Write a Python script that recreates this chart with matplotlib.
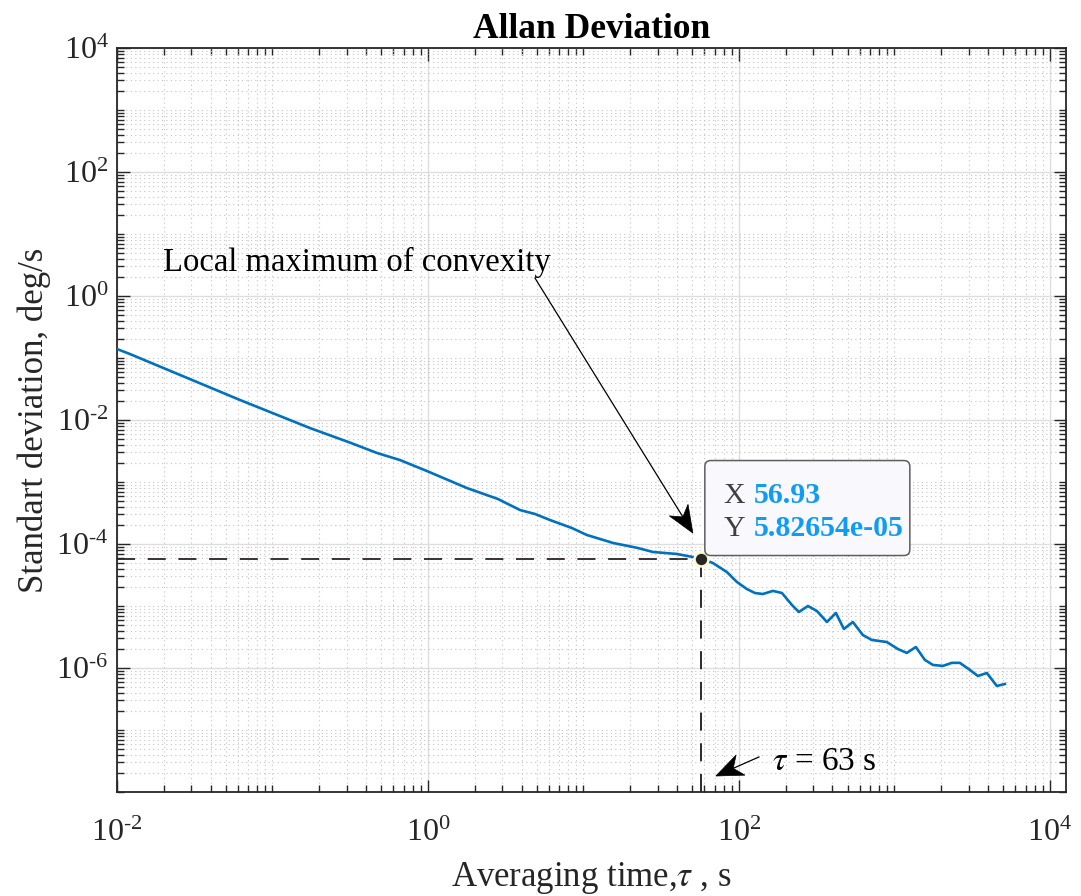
import numpy as np
import matplotlib
matplotlib.use("Agg")
import matplotlib.pyplot as plt
from matplotlib.ticker import LogLocator, NullFormatter, FuncFormatter
from matplotlib.patches import Polygon, FancyBboxPatch
from matplotlib.lines import Line2D
from matplotlib.transforms import IdentityTransform, ScaledTranslation

plt.rcParams["font.family"] = ["Liberation Serif", "DejaVu Serif"]
plt.rcParams["mathtext.fontset"] = "stix"
plt.rcParams["mathtext.default"] = "regular"

# averaging time (s) and Allan deviation (deg/s)
tau = [0.0100, 0.0121, 0.0618, 0.174, 0.320, 0.470, 0.661, 0.987, 1.78, 2.82,
       3.91, 4.88, 6.09, 8.43, 10.5, 15.5, 22.4, 28.0, 39.9, 56.93,
       68.0, 83.7, 97.1, 112.5, 126.8, 142.6, 165.5, 189.2, 219.3, 243.2,
       278.0, 317.6, 368.3, 420.7, 473.6, 540.9, 627.0, 716.6, 895.0, 1054.0,
       1203.0, 1375.0, 1571.0, 1770.0, 2051.0, 2344.0, 2637.0, 3062.0, 3444.0, 3936.0,
       4560.0, 5140.0]
adev = [0.1396, 0.1161, 0.02104, 7.43e-3, 4.26e-3, 2.94e-3, 2.26e-3, 1.50e-3, 8.0e-4, 5.32e-4,
        3.53e-4, 3.05e-4, 2.44e-4, 1.81e-4, 1.40e-4, 1.04e-4, 8.62e-5, 7.43e-5, 6.90e-5, 5.82654e-05,
        4.94e-5, 3.53e-5, 2.44e-5, 1.88e-5, 1.62e-5, 1.56e-5, 1.75e-5, 1.62e-5, 1.04e-5, 8.0e-6,
        1.0e-5, 8.3e-6, 5.52e-6, 7.71e-6, 4.26e-6, 5.52e-6, 3.40e-6, 2.83e-6, 2.62e-6, 2.02e-6,
        1.75e-6, 2.18e-6, 1.35e-6, 1.12e-6, 1.08e-6, 1.21e-6, 1.21e-6, 9.3e-7, 7.43e-7, 8.3e-7,
        5.13e-7, 5.52e-7]

# highlighted point (data tip)
tip_x = 56.93
tip_y = 5.82654e-05

xlims = (1e-2, 1.27e4)
ylims = (1e-8, 1e4)
yticks = [1e-6, 1e-4, 1e-2, 1e0, 1e2, 1e4]
xticks = [1e-2, 1e0, 1e2, 1e4]


def pow_label(v, pos):
    e = int(round(np.log10(v)))
    if e < 0:
        return r"$10^{\text{-}%d}$" % (-e)
    return r"$10^{%d}$" % e


fig = plt.figure(figsize=(10.81, 8.96), dpi=100)
ax = fig.add_axes([0.1082, 0.1161, 0.8779, 0.8303])
ax.set_xscale("log")
ax.set_yscale("log")

ax.plot(tau, adev, color="#0072BD", linewidth=1.9, zorder=3)

# dashed guide lines to the data tip
ax.plot([xlims[0], tip_x], [tip_y, tip_y], linestyle=(0, (10, 7)), color="#2e2222",
        linewidth=1.3, zorder=2)
ax.plot([tip_x, tip_x], [ylims[0], tip_y], linestyle=(0, (10, 7)), color="#1a1a1a",
        linewidth=1.3, zorder=2)
ax.plot([tip_x], [tip_y], marker="o", markersize=10, markerfacecolor="#262626",
        markeredgecolor="#fffbd0", markeredgewidth=1.8, zorder=5)

ax.set_xlim(*xlims)
ax.set_ylim(*ylims)
ax.set_xticks(xticks)
ax.set_yticks(yticks)
ax.xaxis.set_major_formatter(FuncFormatter(pow_label))
ax.yaxis.set_major_formatter(FuncFormatter(pow_label))
ax.xaxis.set_minor_locator(LogLocator(base=10, subs=np.arange(1, 10), numticks=100))
ax.yaxis.set_minor_locator(LogLocator(base=10, subs=np.arange(1, 10), numticks=100))
ax.xaxis.set_minor_formatter(NullFormatter())
ax.yaxis.set_minor_formatter(NullFormatter())

ax.tick_params(which="both", direction="in", top=True, right=True, colors="#262626",
               labelcolor="#262626", width=1.0)
ax.tick_params(which="major", length=9, labelsize=23)
ax.tick_params(axis="x", which="major", pad=19)
ax.tick_params(axis="y", which="major", pad=6)
ax.tick_params(which="minor", length=5)
for sp in ax.spines.values():
    sp.set_linewidth(1.3)
    sp.set_color("#262626")

ax.grid(True, which="major", color="#dedede", linewidth=1.0, linestyle="-")
ax.grid(True, which="minor", color="#c4c4c4", linewidth=0.8, linestyle=(0, (1, 3)))
ax.set_axisbelow(True)

ax.set_title("Allan Deviation", fontsize=25.5, fontweight="bold", pad=7)
ax.set_xlabel(r"Averaging time,$\mathit{\tau}$ , s", fontsize=25, color="#262626", labelpad=9)
ax.set_ylabel("Standart deviation, deg/s", fontsize=25, color="#262626", labelpad=4)


def draw_arrow(tail, tip, head_len=27, head_w=22, notch=8):
    p0 = ax.transData.transform(tail)
    p1 = ax.transData.transform(tip)
    d = (p1 - p0) / np.hypot(*(p1 - p0))
    n = np.array([-d[1], d[0]])
    base = p1 - d * head_len
    nt = base + d * notch
    head = Polygon([p1, base + n * head_w / 2, nt, base - n * head_w / 2], closed=True,
                   facecolor="black", edgecolor="black", linewidth=0.5,
                   transform=IdentityTransform(), zorder=7)
    ax.add_patch(head)
    ax.add_line(Line2D([p0[0], nt[0]], [p0[1], nt[1]], color="black", linewidth=0.9,
                       transform=IdentityTransform(), zorder=7))


# annotation: local maximum of convexity
ax.text(0.0198, 2.55, "Local maximum of convexity", fontsize=23.5, va="baseline",
        ha="left", color="black")
draw_arrow((4.88, 1.95), (50.6, 1.5e-4))

# annotation: tau = 63 s
draw_arrow((134.6, 3.67e-8), (71.1, 1.81e-8))
ax.text(163, 3.05e-8, r"$\mathit{\tau}$ = 63 s", fontsize=24, va="center", ha="left")

# data tip box (sizes in inches, relative to the tip point)
tip_tr = fig.dpi_scale_trans + ScaledTranslation(tip_x, tip_y, ax.transData)
box = FancyBboxPatch((0.04, 0.03), 2.05, 0.95, boxstyle="round,pad=0,rounding_size=0.06",
                     facecolor="#f8f8fd", edgecolor="#5e5e5e", linewidth=1.1,
                     transform=tip_tr, zorder=6)
ax.add_patch(box)
lab_props = dict(color="#404040", fontsize=21.5, transform=tip_tr, zorder=7, va="baseline")
val_props = dict(color="#0f9cf5", fontsize=21.5, fontweight="bold", transform=tip_tr,
                 zorder=7, va="baseline")
ax.text(0.23, 0.56, "X", **lab_props)
ax.text(0.525, 0.56, f"{tip_x:.4g}", **val_props)
ax.text(0.23, 0.23, "Y", **lab_props)
ax.text(0.525, 0.23, f"{tip_y:g}", **val_props)

fig.savefig("out.png", dpi=100)
